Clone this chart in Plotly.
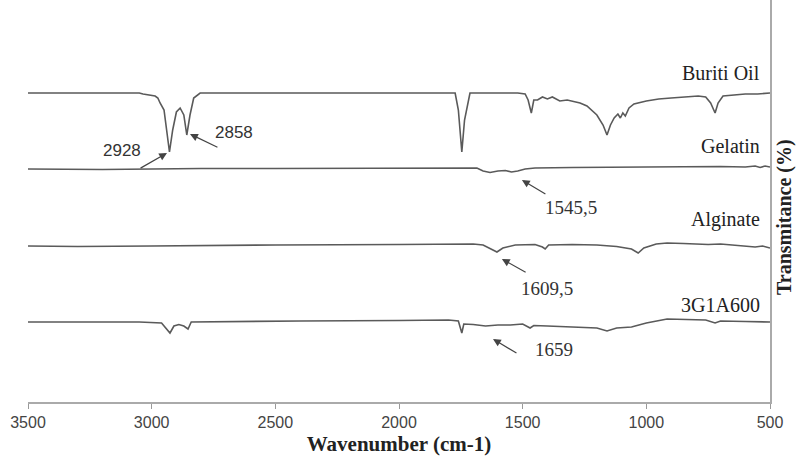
import plotly.graph_objects as go

# Wavenumber (cm-1) / transmittance (arbitrary units, stacked spectra)
buriti_wn = [3500, 3200, 3050, 3035, 3000, 2986, 2975, 2966, 2950, 2940, 2928, 2915, 2900, 2885, 2870,
             2858, 2845, 2830, 2804, 2500, 2000, 1800, 1773, 1760, 1746, 1735, 1713, 1520, 1490, 1478,
             1465, 1455, 1440, 1420, 1400, 1380, 1350, 1320, 1290, 1268, 1240, 1200, 1175, 1159, 1145,
             1130, 1115, 1105, 1095, 1085, 1070, 1050, 1000, 950, 900, 850, 790, 760, 740, 722, 710,
             690, 650, 600, 550, 500]
buriti_t = [309, 309, 309, 308, 307, 306, 304, 299, 292, 272, 250, 272, 290, 294, 287,
            267, 287, 304, 309, 309, 309.5, 309.5, 309, 292, 250, 282, 309, 309, 308, 302,
            289, 302, 302, 305, 303, 305, 301, 302, 300, 299, 296, 287, 277, 267, 277,
            284, 288, 284, 289, 286, 294, 298, 301, 303, 304, 305, 306, 305, 299, 289, 299,
            306, 307, 308, 308, 309]

gelatin_wn = [3500, 3200, 3000, 2800, 2500, 2000, 1700, 1685, 1660, 1632, 1600, 1570, 1545, 1520, 1490,
              1450, 1300, 1000, 800, 700, 600, 560, 540, 520, 500]
gelatin_t = [233, 232.5, 233, 233.5, 233.5, 234, 234.5, 234, 231, 229.5, 231, 231.5, 230, 231, 233,
             234, 234.5, 235, 235.5, 235.5, 235, 236, 234.5, 236, 235]

alginate_wn = [3500, 3300, 3000, 2800, 2500, 2000, 1700, 1660, 1630, 1604, 1580, 1530, 1450, 1420, 1409,
               1395, 1300, 1200, 1120, 1060, 1033, 1010, 960, 916, 850, 800, 750, 700, 650, 600,
               560, 530, 500]
alginate_t = [156, 155.5, 156, 156.5, 157, 157.5, 158, 157, 153, 150, 154, 157, 157.5, 155, 153,
              157, 157.5, 157, 155.5, 153, 149, 154, 158, 159, 158.5, 158, 157.5, 158, 157, 155.5,
              155, 156, 154]

mix_wn = [3500, 3200, 3050, 2960, 2945, 2926, 2910, 2890, 2870, 2853, 2840, 2700, 2400, 2000, 1800,
          1760, 1746, 1738, 1700, 1650, 1600, 1550, 1500, 1470, 1455, 1400, 1300, 1200, 1159, 1120,
          1060, 1000, 916, 850, 760, 722, 700, 600, 500]
mix_t = [80, 79.5, 80, 79, 75, 69, 76, 77.5, 76, 73, 80, 80.5, 81, 81.5, 82,
         81, 69, 78, 77.5, 76, 77, 77, 78, 74, 76.5, 76, 75, 74, 71, 74,
         75, 79, 83, 82.5, 82, 79, 81, 80.5, 80]

series_names = ["Buriti Oil", "Gelatin", "Alginate", "3G1A600"]
series_label_t = [329, 256, 183, 97]

# peak annotations: label, head (wn, t), tail (wn, t), text position (wn, t)
peak_labels = ["2928", "2858", "1545,5", "1609,5", "1659"]
peak_head_wn = [2938, 2845, 1503, 1584, 1620]
peak_head_t = [249, 268, 222, 143, 63]
peak_tail_wn = [3051, 2728, 1402, 1482, 1519]
peak_tail_t = [233, 254, 207, 129, 48]
peak_text_wn = [3120, 2667, 1305, 1402, 1373]
peak_text_t = [252, 270, 195, 114, 53]

x_ticks = [3500, 3000, 2500, 2000, 1500, 1000, 500]

LINE = "#5a5a5a"
SERIF = "Liberation Serif"
SANS = "Liberation Sans"

fig = go.Figure()
for wn, t in [(buriti_wn, buriti_t), (gelatin_wn, gelatin_t), (alginate_wn, alginate_t), (mix_wn, mix_t)]:
    fig.add_trace(go.Scatter(x=wn, y=t, mode="lines", line=dict(color=LINE, width=1.6),
                             showlegend=False, hoverinfo="skip"))

for name, yt in zip(series_names, series_label_t):
    fig.add_annotation(x=532, y=yt, xref="x", yref="y", text=name, showarrow=False,
                       xanchor="right", yanchor="middle",
                       font=dict(family=SERIF, size=20, color="#222"))

for i, lab in enumerate(peak_labels):
    fam = SANS if i < 2 else SERIF
    sz = 17 if i < 2 else 19
    fig.add_annotation(x=peak_head_wn[i], y=peak_head_t[i], ax=peak_tail_wn[i], ay=peak_tail_t[i],
                       xref="x", yref="y", axref="x", ayref="y", text="", showarrow=True,
                       arrowhead=2, arrowsize=1.3, arrowwidth=1.2, arrowcolor="#444")
    fig.add_annotation(x=peak_text_wn[i], y=peak_text_t[i], xref="x", yref="y", text=lab,
                       showarrow=False, xanchor="center", yanchor="middle",
                       font=dict(family=fam, size=sz, color="#333"))

fig.add_annotation(x=1, y=0.46, xref="paper", yref="paper", xanchor="center", yanchor="middle",
                   xshift=14, text="<b>Transmitance (%)</b>", textangle=-90, showarrow=False,
                   font=dict(family=SERIF, size=20, color="#222"))

fig.update_layout(
    width=797, height=471,
    margin=dict(l=28, r=27, t=0, b=69),
    paper_bgcolor="white", plot_bgcolor="white",
    xaxis=dict(range=[3500, 500], tickvals=x_ticks, ticks="outside", ticklen=5,
               tickcolor="#999", showline=True, linecolor="#aaa", linewidth=1.5,
               showgrid=False, zeroline=False,
               tickfont=dict(family=SANS, size=16, color="#444"),
               title=dict(text="<b>Wavenumber (cm-1)</b>", standoff=6,
                          font=dict(family=SERIF, size=21, color="#222"))),
    yaxis=dict(range=[0, 402], side="right", showline=True, linecolor="#aaa", linewidth=1.5,
               showticklabels=False, ticks="", showgrid=False, zeroline=False),
)

fig.write_html("out.html", config={"displayModeBar": False},
               post_script="document.body.style.margin='0';")
